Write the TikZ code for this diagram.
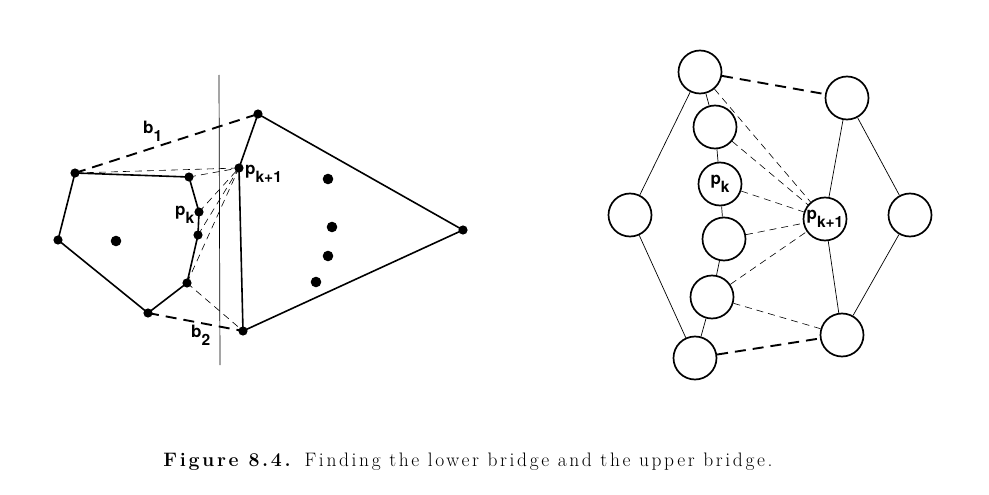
\documentclass[tikz,border=0pt]{standalone}
\usepackage{fontspec}
\newfontfamily\lblfont{TeX Gyre Heros}
\newfontfamily\capfont[LetterSpace=13.5]{Latin Modern Roman}
\newcommand{\lsub}[1]{\raisebox{-8pt}{\fontsize{15.5}{16}\selectfont #1}}
\begin{document}
\begin{tikzpicture}[x=1pt,y=-1pt,
    hull/.style={line width=1.6pt,line join=round},
    bridge/.style={line width=1.9pt,dash pattern=on 11pt off 7pt},
    tang/.style={line width=0.6pt,dash pattern=on 7pt off 5pt},
    lbl/.style={font=\lblfont\bfseries\fontsize{17}{19}\selectfont,inner sep=0pt,anchor=base west},
    ring/.style={circle,draw,line width=1.7pt,minimum size=43pt,inner sep=0pt,
        font=\lblfont\bfseries\fontsize{17}{19}\selectfont}]
    \useasboundingbox (0,0) rectangle (989,495);
    % left: the two hulls
    \coordinate (g) at (58,240);
    \coordinate (a) at (75,173);
    \coordinate (b) at (189,177);
    \coordinate (pk) at (199,212);
    \coordinate (d) at (198,235);
    \coordinate (e) at (187,283);
    \coordinate (f) at (148,313);
    \coordinate (t) at (258,114);
    \coordinate (q) at (239,168);
    \coordinate (r) at (463,230);
    \coordinate (s) at (243,331);
    \coordinate (top) at (219,75);
    \coordinate (bot) at (220,365);
    \draw[line width=0.7pt] (top)--(bot);
    \draw[hull] (g)--(a)--(b)--(pk)--(d)--(e)--(f)--cycle;
    \draw[hull] (t)--(q)--(s)--(r)--cycle;
    \draw[bridge] (a)--(t);
    \draw[bridge] (f)--(s);
    \foreach \v in {a,b,pk,d,e}{
        \draw[tang] (\v)--(q);
    }
    \draw[tang] (e)--(s);
    \foreach \v in {g,a,b,pk,d,e,f,t,q,r,s}{
        \fill (\v) circle (4.6);
    }
    \foreach \p in {(116,241),(328,179),(332,227),(328,256),(316,282)}{
        \fill \p circle (5.3);
    }
    \node[lbl] (b1) at (143,134) {b\lsub{1}};
    \node[lbl] (b2) at (191,337) {b\lsub{2}};
    \node[lbl] (lpk) at (175,215) {p\lsub{k}};
    \node[lbl] (lq) at (245,175) {p\lsub{k+1}};
    % right: nodes as circles
    \node[ring] (l1) at (700,72) {};
    \node[ring] (l2) at (715,127) {};
    \node[ring] (rpk) at (720,184) {p\lsub{k}};
    \node[ring] (l4) at (724,239) {};
    \node[ring] (l5) at (712,297) {};
    \node[ring] (l6) at (695,358) {};
    \node[ring] (w) at (630,215) {};
    \node[ring] (rt) at (847,98) {};
    \node[ring] (rq) at (825,219) {p\lsub{k+1}};
    \node[ring] (rb) at (842,335) {};
    \node[ring] (ee) at (910,215) {};
    \draw[line width=0.7pt] (w)--(l1) (w)--(l6) (l1)--(l2)--(rpk)--(l4)--(l5)--(l6);
    \draw[line width=0.7pt] (rt)--(rq)--(rb) (rt)--(ee)--(rb);
    \draw[bridge] (l1)--(rt);
    \draw[bridge] (l6)--(rb);
    \foreach \v in {l1,l2,rpk,l4,l5}{
        \draw[tang] (\v)--(rq);
    }
    \draw[tang] (l5)--(rb);
    % caption
    \node[font=\capfont\fontsize{19.5}{23}\selectfont] (cap) at (468,462)
        {\textbf{Figure 8.4.} Finding the lower bridge and the upper bridge.};
\end{tikzpicture}
\end{document}
